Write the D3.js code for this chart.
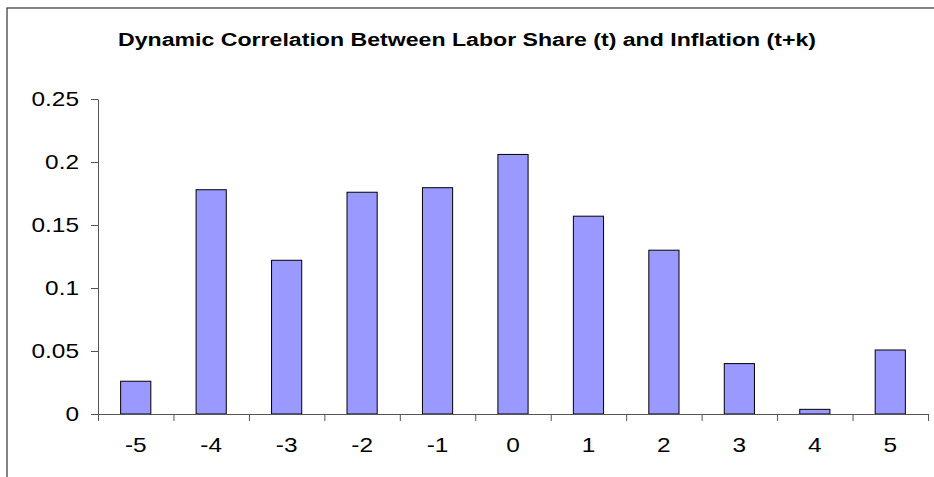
<!DOCTYPE html>
<html>
<head>
<meta charset="utf-8">
<script src="https://cdnjs.cloudflare.com/ajax/libs/d3/7.8.5/d3.min.js"></script>
<style>
  body { margin: 0; background: #fff; }
  svg { display: block; font-family: "Liberation Sans", Arial, sans-serif; }
</style>
</head>
<body>
<svg id="chart" width="934" height="477"></svg>
<script>
const lags = ['-5', '-4', '-3', '-2', '-1', '0', '1', '2', '3', '4', '5'];
const correlations = [0.026, 0.178, 0.122, 0.176, 0.1796, 0.206, 0.157, 0.130, 0.040, 0.0037, 0.0508];
const yTicks = [0, 0.05, 0.1, 0.15, 0.2, 0.25];
const yTickLabels = ['0', '0.05', '0.1', '0.15', '0.2', '0.25'];
const title = 'Dynamic Correlation Between Labor Share (t) and Inflation (t+k)';

const svg = d3.select('#chart');
const margin = {top: 99, left: 98, right: 6, bottom: 63};
const width = 934 - margin.left - margin.right;
const height = 477 - margin.top - margin.bottom;
const stretch = 1.22;

// outer chart border (cropped on right and bottom)
svg.append('rect')
    .attr('x', 7).attr('y', 8)
    .attr('width', 960).attr('height', 500)
    .attr('fill', 'none')
    .attr('stroke', '#333')
    .attr('stroke-width', 1.2);

svg.append('text')
    .attr('x', 467).attr('y', 46)
    .attr('text-anchor', 'middle')
    .attr('font-weight', 'bold')
    .attr('font-size', 18)
    .attr('textLength', 698)
    .attr('lengthAdjust', 'spacingAndGlyphs')
    .text(title);

const g = svg.append('g').attr('transform', 'translate(' + margin.left + ',' + margin.top + ')');

const x = d3.scaleBand().domain(lags).range([0, width]).paddingInner(0.6).paddingOuter(0.3);
const xEdges = d3.scaleLinear().domain([0, lags.length]).range([0, width]);
const y = d3.scaleLinear().domain([0, 0.25]).range([height, 0]);

g.selectAll('rect.bar')
    .data(correlations)
    .enter().append('rect')
    .attr('class', 'bar')
    .attr('x', (d, i) => x(lags[i]))
    .attr('y', d => y(d))
    .attr('width', x.bandwidth())
    .attr('height', d => y(0) - y(d))
    .attr('fill', '#9999FF')
    .attr('stroke', '#000')
    .attr('stroke-width', 1);

// y axis
const yAxis = g.append('g')
    .call(d3.axisLeft(y).tickValues(yTicks).tickSize(7).tickSizeOuter(0)
      .tickFormat((d, i) => yTickLabels[i]));
yAxis.select('.domain').attr('stroke', '#555');
yAxis.selectAll('.tick line').attr('stroke', '#555');
yAxis.selectAll('.tick text')
    .attr('x', null)
    .attr('transform', 'translate(-19,0) scale(' + stretch + ',1)')
    .attr('font-size', 20)
    .attr('fill', '#000');

// x axis, ticks at category boundaries
const xAxis = g.append('g')
    .attr('transform', 'translate(0,' + height + ')')
    .call(d3.axisBottom(xEdges).tickValues(d3.range(lags.length + 1)).tickSize(7).tickSizeOuter(0)
      .tickFormat(''));
xAxis.select('.domain').attr('stroke', '#555');
xAxis.selectAll('.tick line').attr('stroke', '#555');

g.append('g')
    .selectAll('text')
    .data(lags)
    .enter().append('text')
    .attr('transform', d => 'translate(' + (x(d) + x.bandwidth() / 2) + ',' + (height + 38) + ') scale(' + stretch + ',1)')
    .attr('text-anchor', 'middle')
    .attr('font-size', 20)
    .text(d => d);

g.selectAll('text').attr('font-family', '"Liberation Sans", Arial, sans-serif');
</script>
</body>
</html>
